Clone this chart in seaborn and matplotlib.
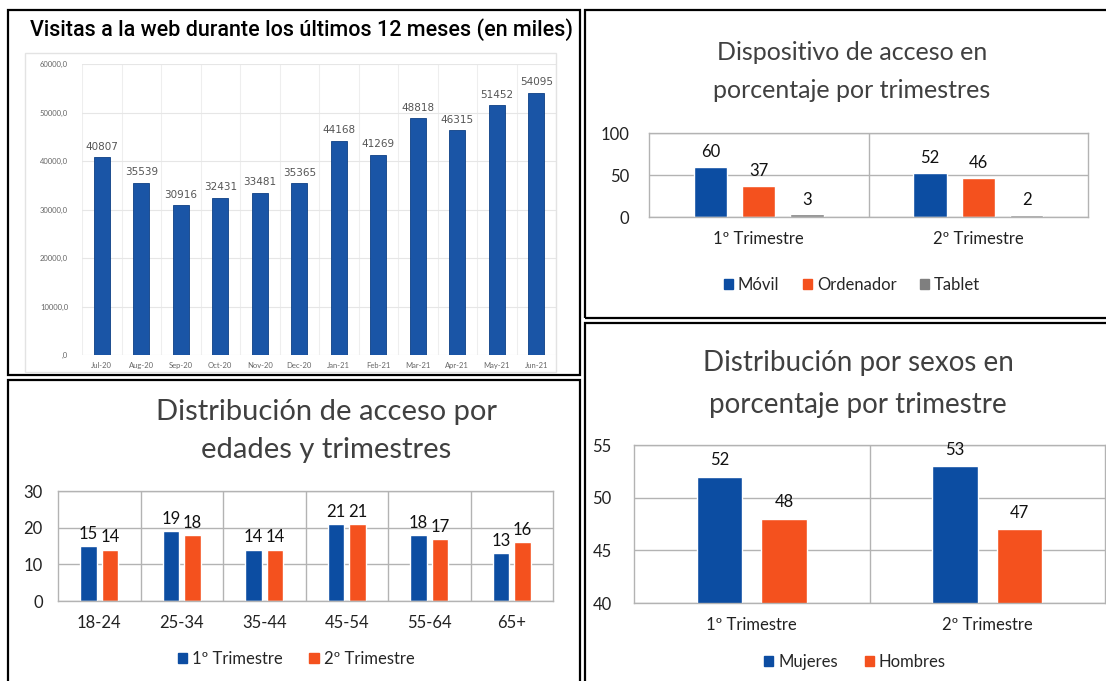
import matplotlib
matplotlib.use("Agg")
import matplotlib.pyplot as plt
import matplotlib.patches as mpatches
import matplotlib.ticker as mticker
import seaborn as sns
import pandas as pd

# datos
meses = ["Jul-20", "Aug-20", "Sep-20", "Oct-20", "Nov-20", "Dec-20",
         "Jan-21", "Feb-21", "Mar-21", "Apr-21", "May-21", "Jun-21"]
visitas = [40807, 35539, 30916, 32431, 33481, 35365,
           44168, 41269, 48818, 46315, 51452, 54095]

trimestres = ["1º Trimestre", "2º Trimestre"]
dispositivos = ["Móvil", "Ordenador", "Tablet"]
disp_t1 = [60, 37, 3]
disp_t2 = [52, 46, 2]

edades = ["18-24", "25-34", "35-44", "45-54", "55-64", "65+"]
edad_t1 = [15, 19, 14, 21, 18, 13]
edad_t2 = [14, 18, 14, 21, 17, 16]

sexos = ["Mujeres", "Hombres"]
sexo_t1 = [52, 48]
sexo_t2 = [53, 47]

AZUL = "#0c4da2"
NARANJA = "#f4511e"
GRIS = "#7f7f7f"
AZUL_A = "#1a55a6"

sns.set_theme(style="white")
plt.rcParams["font.family"] = ["Lato", "DejaVu Sans"]

W, H = 1106, 681
fig = plt.figure(figsize=(W / 100, H / 100), dpi=100)


def box(x0, y0, x1, y1):
    return [x0 / W, 1 - y1 / H, (x1 - x0) / W, (y1 - y0) / H]


def marco(x0, y0, x1, y1, color="black", lw=1.6):
    r = mpatches.Rectangle((x0 / W, 1 - y1 / H), (x1 - x0) / W, (y1 - y0) / H,
                           transform=fig.transFigure, fill=False,
                           edgecolor=color, linewidth=lw, zorder=10)
    fig.patches.append(r)


def fy(y):
    return 1 - y / H


def fx(x):
    return x / W


# marcos de los paneles
marco(8, 10, 580, 375)
marco(8, 380, 580, 700)
marco(585, 10, 1120, 318)
marco(585, 323, 1120, 700)


def estilo_excel(ax, ncat):
    for s in ax.spines.values():
        s.set_color("#b3b3b3")
        s.set_linewidth(1.0)
    ax.yaxis.grid(True, color="#b3b3b3", linewidth=1.0)
    ax.set_axisbelow(True)
    for i in range(1, ncat):
        ax.axvline(i - 0.5, color="#b3b3b3", linewidth=1.0, zorder=0)
    ax.set_xlim(-0.5, ncat - 0.5)
    ax.set_xlabel("")
    ax.set_ylabel("")
    ax.tick_params(axis="both", length=0, labelsize=12, colors="#222222")
    ax.tick_params(axis="x", pad=10)


def leyenda(ax, labels, colores, x, y, size=12, spacing=1.4):
    handles = [mpatches.Patch(facecolor=c, edgecolor=c) for c in colores]
    fig.legend(handles, labels, loc="center", bbox_to_anchor=(fx(x), fy(y)),
               ncol=len(labels), frameon=False, fontsize=size,
               handlelength=0.55, handleheight=0.55, handletextpad=0.3,
               columnspacing=spacing)


# ---- Panel A: visitas mensuales ----
fig.text(fx(301), fy(30), "Visitas a la web durante los últimos 12 meses (en miles)",
         ha="center", va="center", fontsize=15.5, fontweight="medium",
         family=["Roboto", "DejaVu Sans"], color="black")
marco(25, 53, 556, 372, color="#e3e3e3", lw=1.0)
axA = fig.add_axes(box(82, 64, 556, 355))
dfA = pd.DataFrame({"mes": meses, "visitas": visitas})
sns.barplot(data=dfA, x="mes", y="visitas", color=AZUL_A, width=0.4,
            edgecolor="#0d3f85", linewidth=0.6, saturation=1, ax=axA)
axA.set_ylim(0, 60000)
axA.set_yticks(range(0, 60001, 10000))
axA.yaxis.set_major_formatter(mticker.FuncFormatter(
    lambda v, p: ",0" if v == 0 else f"{v:.1f}".replace(".", ",")))
for s in axA.spines.values():
    s.set_visible(False)
axA.yaxis.grid(True, color="#e6e6e6", linewidth=0.8)
for i in range(0, 13):
    axA.axvline(i - 0.5, color="#eeeeee", linewidth=0.8, zorder=0)
axA.set_axisbelow(True)
axA.set_xlim(-0.5, 11.5)
axA.set_xlabel("")
axA.set_ylabel("")
axA.tick_params(axis="both", length=0, labelsize=5.5, colors="#666666")
axA.tick_params(axis="y", pad=10)
axA.tick_params(axis="x", pad=5)
axA.bar_label(axA.containers[0], labels=[str(v) for v in visitas],
              padding=4, fontsize=7.5, color="#555555",
              family=["DejaVu Sans"])

# ---- Panel B: dispositivo ----
fig.text(fx(852), fy(52), "Dispositivo de acceso en", ha="center", va="center",
         fontsize=18, color="#404040")
fig.text(fx(852), fy(90), "porcentaje por trimestres", ha="center", va="center",
         fontsize=18, color="#404040")
axB = fig.add_axes(box(649, 133, 1088, 217))
dfB = pd.DataFrame({
    "trimestre": trimestres * 3,
    "dispositivo": [d for d in dispositivos for _ in trimestres],
    "valor": [v for pair in zip(disp_t1, disp_t2) for v in pair],
})
sns.barplot(data=dfB, x="trimestre", y="valor", hue="dispositivo",
            hue_order=dispositivos, palette=[AZUL, NARANJA, GRIS],
            width=0.66, gap=0.31, saturation=1, legend=False, ax=axB)
axB.set_ylim(0, 100)
axB.set_yticks([0, 50, 100])
estilo_excel(axB, 2)
axB.tick_params(axis="y", pad=14)
for c in axB.containers:
    axB.bar_label(c, fmt="%d", padding=5, fontsize=12, color="#111111")
leyenda(axB, dispositivos, [AZUL, NARANJA, GRIS], 852, 285)

# ---- Panel C: edades ----
fig.text(fx(326), fy(412), "Distribución de acceso por", ha="center",
         va="center", fontsize=21, color="#404040")
fig.text(fx(326), fy(450), "edades y trimestres", ha="center",
         va="center", fontsize=21, color="#404040")
axC = fig.add_axes(box(58, 491, 553, 601))
dfC = pd.DataFrame({
    "edad": edades * 2,
    "trimestre": [t for t in trimestres for _ in edades],
    "valor": edad_t1 + edad_t2,
})
sns.barplot(data=dfC, x="edad", y="valor", hue="trimestre",
            hue_order=trimestres, palette=[AZUL, NARANJA],
            width=0.53, gap=0.25, saturation=1, legend=False, ax=axC)
axC.set_ylim(0, 30)
axC.set_yticks([0, 10, 20, 30])
estilo_excel(axC, 6)
axC.tick_params(axis="y", pad=11)
for c in axC.containers:
    axC.bar_label(c, fmt="%d", padding=3, fontsize=12, color="#111111")
leyenda(axC, trimestres, [AZUL, NARANJA], 296, 659, spacing=1.6)

# ---- Panel D: sexos ----
fig.text(fx(858), fy(363), "Distribución por sexos en", ha="center",
         va="center", fontsize=20, color="#404040")
fig.text(fx(858), fy(405), "porcentaje por trimestre", ha="center",
         va="center", fontsize=20, color="#404040")
axD = fig.add_axes(box(634, 445, 1105, 603))
dfD = pd.DataFrame({
    "trimestre": trimestres * 2,
    "sexo": [s for s in sexos for _ in trimestres],
    "valor": [v for pair in zip(sexo_t1, sexo_t2) for v in pair],
})
sns.barplot(data=dfD, x="trimestre", y="valor", hue="sexo",
            hue_order=sexos, palette=[AZUL, NARANJA],
            width=0.55, gap=0.3, saturation=1, legend=False, ax=axD)
axD.set_ylim(40, 55)
axD.set_yticks([40, 45, 50, 55])
estilo_excel(axD, 2)
axD.tick_params(axis="y", pad=16)
for c in axD.containers:
    axD.bar_label(c, fmt="%d", padding=6, fontsize=12, color="#111111")
leyenda(axD, sexos, [AZUL, NARANJA], 855, 662, spacing=1.6)

fig.savefig("out.png", dpi=100)
